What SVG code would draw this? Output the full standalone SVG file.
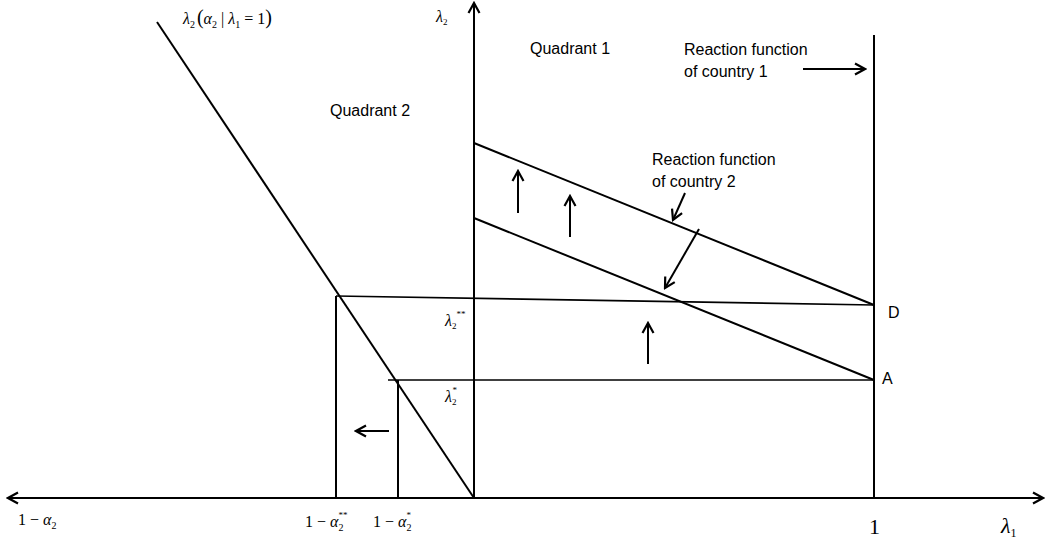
<svg xmlns="http://www.w3.org/2000/svg" width="1046" height="545" viewBox="0 0 1046 545">
<style>
.ln{stroke:#000;stroke-width:2;fill:none}
.th{stroke:#000;stroke-width:1.6;fill:none}
.lbl{font-family:"Liberation Sans",Arial,sans-serif;font-size:16px;fill:#000}
.m{font-family:"Liberation Serif","Times New Roman",serif;font-size:16px;fill:#000}
.big{font-size:22px}
.i{font-style:italic}
</style>
<defs>
<marker id="ah" viewBox="0 0 14 14" refX="12" refY="7" markerWidth="14" markerHeight="14" markerUnits="userSpaceOnUse" orient="auto">
<path d="M2,1.5 L12,7 L2,12.5" fill="none" stroke="#000" stroke-width="2.2"/>
</marker>
</defs>
<rect width="1046" height="545" fill="#fff"/>
<g id="connectors">
<line class="ln" x1="474" y1="498" x2="8" y2="498" marker-end="url(#ah)"/>
<line class="ln" x1="474" y1="498" x2="1043" y2="498" marker-end="url(#ah)"/>
<line class="ln" x1="474" y1="498" x2="474" y2="3" marker-end="url(#ah)"/>
<line class="ln" x1="874" y1="35" x2="874" y2="498"/>
<line class="ln" x1="157" y1="22" x2="474" y2="498"/>
<line class="ln" x1="474" y1="143" x2="874" y2="305"/>
<line class="ln" x1="474" y1="218" x2="874" y2="380"/>
<line class="th" x1="336" y1="296" x2="874" y2="305"/>
<line class="th" x1="388" y1="380" x2="874" y2="380"/>
<line class="ln" x1="336" y1="296" x2="336" y2="498"/>
<line class="ln" x1="398" y1="380" x2="398" y2="498"/>
<line class="ln" x1="803" y1="69" x2="865" y2="69" marker-end="url(#ah)"/>
<line class="ln" x1="389" y1="431" x2="356" y2="431" marker-end="url(#ah)"/>
<line class="ln" x1="518" y1="213" x2="518" y2="171" marker-end="url(#ah)"/>
<line class="ln" x1="570" y1="237" x2="570" y2="196" marker-end="url(#ah)"/>
<line class="ln" x1="648" y1="364" x2="648" y2="323" marker-end="url(#ah)"/>
<line class="ln" x1="685" y1="193" x2="673" y2="220" marker-end="url(#ah)"/>
<line class="ln" x1="699" y1="229" x2="665" y2="288" marker-end="url(#ah)"/>
</g>
<g id="labels">
<text class="lbl" x="530" y="54">Quadrant 1</text>
<text class="lbl" x="330" y="116">Quadrant 2</text>
<text class="lbl" x="684" y="55">Reaction function</text>
<text class="lbl" x="684" y="77">of country 1</text>
<text class="lbl" x="652" y="165">Reaction function</text>
<text class="lbl" x="652" y="187">of country 2</text>
<text class="lbl" x="888" y="318">D</text>
<text class="lbl" x="882" y="384">A</text>
<text class="m" x="183" y="24"><tspan class="i">λ</tspan><tspan font-size="10" dy="4">2</tspan><tspan dy="-4" dx="2" font-size="20">(</tspan><tspan class="i">α</tspan><tspan font-size="10" dy="4">2</tspan><tspan dy="-4"> | </tspan><tspan class="i">λ</tspan><tspan font-size="10" dy="4">1</tspan><tspan dy="-4"> = 1</tspan><tspan font-size="20">)</tspan></text>
<text class="m" x="436" y="22"><tspan class="i">λ</tspan><tspan font-size="9" dy="3">2</tspan></text>
<text class="m" x="445" y="326"><tspan class="i">λ</tspan><tspan font-size="9" dy="3">2</tspan><tspan font-size="9" dy="-12">**</tspan></text>
<text class="m" x="445" y="402"><tspan class="i">λ</tspan><tspan font-size="9" dy="3">2</tspan><tspan font-size="9" dy="-12" dx="-4">*</tspan></text>
<text class="m" x="18" y="525">1 − <tspan class="i">α</tspan><tspan font-size="10" dy="4">2</tspan></text>
<text class="m" x="305" y="527">1 − <tspan class="i">α</tspan><tspan font-size="10" dy="4">2</tspan><tspan font-size="9" dy="-13" dx="-5">**</tspan></text>
<text class="m" x="373" y="527">1 − <tspan class="i">α</tspan><tspan font-size="10" dy="4">2</tspan><tspan font-size="9" dy="-13" dx="-5">*</tspan></text>
<text class="m big" x="869" y="534">1</text>
<text class="m big" x="1001" y="533"><tspan class="i">λ</tspan><tspan font-size="12" dy="4">1</tspan></text>
</g>
</svg>
